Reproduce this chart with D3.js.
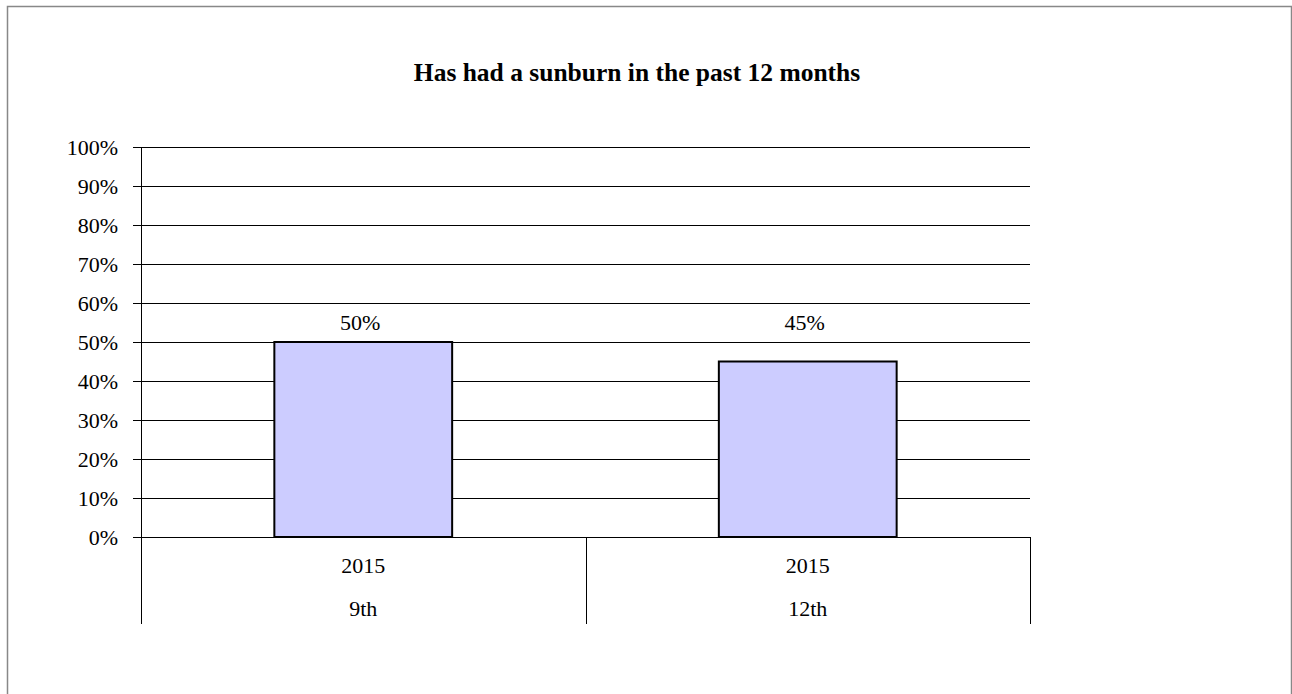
<!DOCTYPE html>
<html><head><meta charset="utf-8">
<script src="https://cdn.jsdelivr.net/npm/d3@7"></script>
<style>body{margin:0;background:#fff}svg{display:block}text{font-family:"Liberation Serif","Times New Roman",serif;fill:#000}</style>
</head><body><svg id="c" width="1292" height="694"></svg>
<script>
const title = "Has had a sunburn in the past 12 months";
const years = ["2015", "2015"];
const grades = ["9th", "12th"];
const values = [0.50, 0.45];
const yTicks = [0,0.1,0.2,0.3,0.4,0.5,0.6,0.7,0.8,0.9,1.0];

const svg = d3.select("#c");
svg.append("rect").attr("x",7.5).attr("y",6.5).attr("width",1284).attr("height",700)
  .attr("fill","none").attr("stroke","#888").attr("stroke-width",1.5);

const L=141, R=1030, T=147, B=537;
const FS = "22px";
const x = d3.scaleBand().domain(d3.range(values.length)).range([L,R]).paddingInner(0.6).paddingOuter(0.3);
const y = d3.scaleLinear().domain([0,1]).range([B,T]);

svg.append("text").attr("x",637).attr("y",81).attr("text-anchor","middle")
  .style("font-weight","bold").style("font-size","25.5px").text(title);

// gridlines
svg.append("g").selectAll("line").data(yTicks).join("line")
  .attr("x1",133).attr("x2",R).attr("y1",d=>Math.round(y(d))+0.5).attr("y2",d=>Math.round(y(d))+0.5)
  .attr("stroke","#000").attr("stroke-width",1);

// y labels
svg.append("g").selectAll("text").data(yTicks).join("text")
  .attr("x",118).attr("y",d=>y(d)+8).attr("text-anchor","end").style("font-size",FS)
  .text(d=>d3.format(".0%")(d));

// y axis
svg.append("line").attr("x1",L+0.5).attr("x2",L+0.5).attr("y1",T).attr("y2",B).attr("stroke","#000");

// bars
svg.append("g").selectAll("rect").data(values).join("rect")
  .attr("x",(d,i)=>x(i)).attr("y",d=>y(d)).attr("width",x.bandwidth()).attr("height",d=>B-y(d))
  .attr("fill","#ccccff").attr("stroke","#000").attr("stroke-width",2);

// value labels
const labelY = y(d3.max(values)) - 12;
svg.append("g").selectAll("text").data(values).join("text")
  .attr("x",(d,i)=>x(i)+x.bandwidth()/2 - 3).attr("y",labelY).attr("text-anchor","middle")
  .style("font-size",FS).text(d=>d3.format(".0%")(d));

// category separators
const seps = d3.range(values.length+1).map(i=>L + i*(R-L)/values.length);
svg.append("g").selectAll("line").data(seps).join("line")
  .attr("x1",d=>Math.round(d)+0.5).attr("x2",d=>Math.round(d)+0.5).attr("y1",B).attr("y2",624)
  .attr("stroke","#000");

svg.append("g").selectAll("text").data(years).join("text")
  .attr("x",(d,i)=>x(i)+x.bandwidth()/2).attr("y",573).attr("text-anchor","middle")
  .style("font-size",FS).text(d=>d);
svg.append("g").selectAll("text").data(grades).join("text")
  .attr("x",(d,i)=>x(i)+x.bandwidth()/2).attr("y",616).attr("text-anchor","middle")
  .style("font-size",FS).text(d=>d);
</script></body></html>
